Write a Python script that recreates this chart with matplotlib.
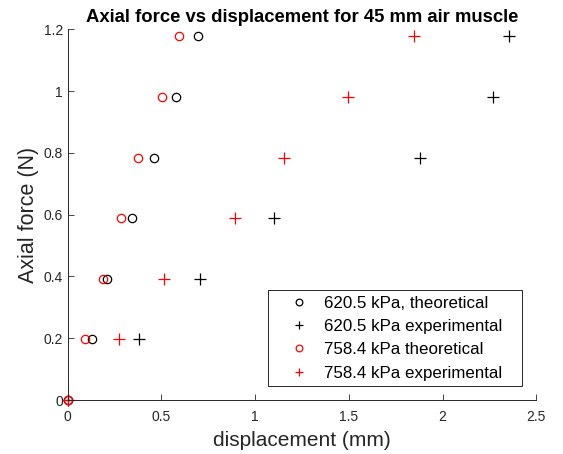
import matplotlib
matplotlib.use('Agg')
import matplotlib.pyplot as pl
from matplotlib.patches import Rectangle

pl.rcParams['font.family'] = ['Liberation Sans', 'DejaVu Sans']

# axial force levels (N)
force = [0, 0.1962, 0.3924, 0.5886, 0.7848, 0.981, 1.1772]

# displacement (mm)
disp_620_theo = [0, 0.130, 0.211, 0.341, 0.461, 0.578, 0.694]
disp_620_exp = [0, 0.382, 0.708, 1.103, 1.880, 2.271, 2.357]
disp_758_theo = [0, 0.092, 0.188, 0.283, 0.377, 0.503, 0.596]
disp_758_exp = [0, 0.274, 0.512, 0.891, 1.153, 1.497, 1.850]

labels = ['620.5 kPa, theoretical', '620.5 kPa experimental',
          '758.4 kPa theoretical', '758.4 kPa experimental']

x_ticks = [0, 0.5, 1, 1.5, 2, 2.5]
y_ticks = [0, 0.2, 0.4, 0.6, 0.8, 1, 1.2]


def main():
    fig = pl.figure(figsize=(5.63, 4.54), dpi=100)
    ax = fig.add_axes([0.1202, 0.1189, 0.8323, 0.8165])

    ax.plot(disp_620_theo, force, linestyle='none', marker='o', markersize=6,
            markerfacecolor='none', markeredgecolor='black', markeredgewidth=0.9,
            label=labels[0], clip_on=False)
    ax.plot(disp_620_exp, force, linestyle='none', marker='+', markersize=8,
            color='black', markeredgewidth=0.9, label=labels[1], clip_on=False)
    ax.plot(disp_758_theo, force, linestyle='none', marker='o', markersize=6,
            markerfacecolor='none', markeredgecolor='red', markeredgewidth=0.9,
            label=labels[2], clip_on=False)
    ax.plot(disp_758_exp, force, linestyle='none', marker='+', markersize=8,
            color='red', markeredgewidth=0.9, label=labels[3], clip_on=False)

    ax.set_xlim(0, 2.5)
    ax.set_ylim(0, 1.2)
    ax.set_xticks(x_ticks)
    ax.set_xticklabels(['0', '0.5', '1', '1.5', '2', '2.5'])
    ax.set_yticks(y_ticks)
    ax.set_yticklabels(['0', '0.2', '0.4', '0.6', '0.8', '1', '1.2'])
    ax.tick_params(direction='in', length=4, width=0.6, colors='#262626',
                   labelsize=10)
    ax.tick_params(axis='x', pad=7)
    for side in ['top', 'right']:
        ax.spines[side].set_visible(False)
    for side in ['left', 'bottom']:
        ax.spines[side].set_color('#262626')
        ax.spines[side].set_linewidth(0.7)

    ax.set_title('Axial force vs displacement for 45 mm air muscle',
                 fontsize=13.3, fontweight='bold', pad=5)
    ax.set_xlabel('displacement (mm)', fontsize=15, color='#262626', labelpad=5)
    ax.set_ylabel('Axial force (N)', fontsize=15.5, color='#262626', labelpad=3)

    # matlab style legend box, wider than the legend content
    box = Rectangle((0.4274, 0.0386), 0.970 - 0.4274, 0.2967 - 0.0386,
                    transform=ax.transAxes, facecolor='white',
                    edgecolor='#262626', linewidth=0.7, zorder=4)
    ax.add_patch(box)
    leg = ax.legend(loc='center left', bbox_to_anchor=(0.4755, 0.1664),
                    borderaxespad=0, borderpad=0, fontsize=12.2,
                    handlelength=1.0, handletextpad=0.98, labelspacing=0.48,
                    frameon=False, markerscale=0.8)
    leg.set_zorder(5)

    fig.savefig('out.png', dpi=100)


if __name__ == '__main__':
    main()
